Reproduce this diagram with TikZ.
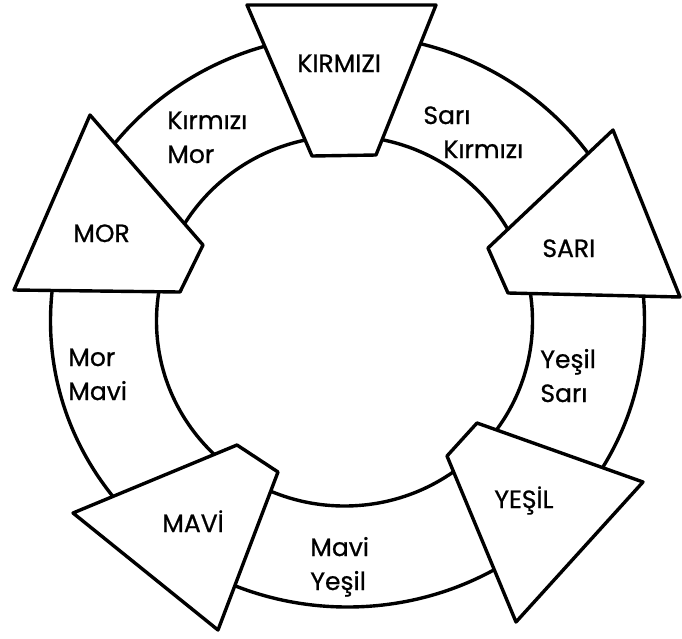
\documentclass[tikz,border=0pt]{standalone}
\usepackage{fontspec}
\setmainfont{Poppins}[FakeBold=0.8]
\begin{document}
\begin{tikzpicture}[x=0.5pt,y=-0.5pt,
  ring/.style={line width=1.7pt},
  plate/.style={draw, fill=white, line width=1.7pt, line join=round},
  caplbl/.style={font=\fontsize{12.5}{15}\selectfont, inner sep=0pt, anchor=base west},
  pairlbl/.style={font=\fontsize{12.5}{17}\selectfont, inner sep=0pt, anchor=base west, align=left}]
\useasboundingbox (0,0) rectangle (682,639);
% ring
\draw[ring] (347.5,321) ellipse [x radius=148.5pt, y radius=143pt];
\draw[ring] (344.5,321) ellipse [x radius=94pt, y radius=92.5pt];
% plates
\draw[plate] (247,5) -- (436,5) -- (376,155) -- (312,156) -- cycle;
\draw[plate] (613,130) -- (680,297) -- (508,293) -- (488,248) -- cycle;
\draw[plate] (477,423) -- (643,482) -- (516,622) -- (447,456) -- cycle;
\draw[plate] (73,513) -- (237,445) -- (278,472) -- (218,630) -- cycle;
\draw[plate] (90,115) -- (203,245) -- (180,292) -- (14,290) -- cycle;
% main labels
\node[caplbl] (kirmizi) at (297,72) {KIRMIZI};
\node[caplbl] (sari) at (542,257) {SARI};
\node[caplbl] (yesil) at (494,508) {YEŞİL};
\node[caplbl] (mavi) at (162,532) {MAVİ};
\node[caplbl] (mor) at (73,242) {MOR};
% pair labels (anchor at last line baseline)
\node[pairlbl] (sk) at (423,158) {Sarı\\\hspace*{10pt}Kırmızı};
\node[pairlbl] (km) at (167,163) {Kırmızı\\Mor};
\node[pairlbl] (ys) at (540,402) {Yeşil\\Sarı};
\node[pairlbl] (mm) at (68,400) {Mor\\Mavi};
\node[pairlbl] (my) at (310,590) {Mavi\\Yeşil};
\end{tikzpicture}
\end{document}
